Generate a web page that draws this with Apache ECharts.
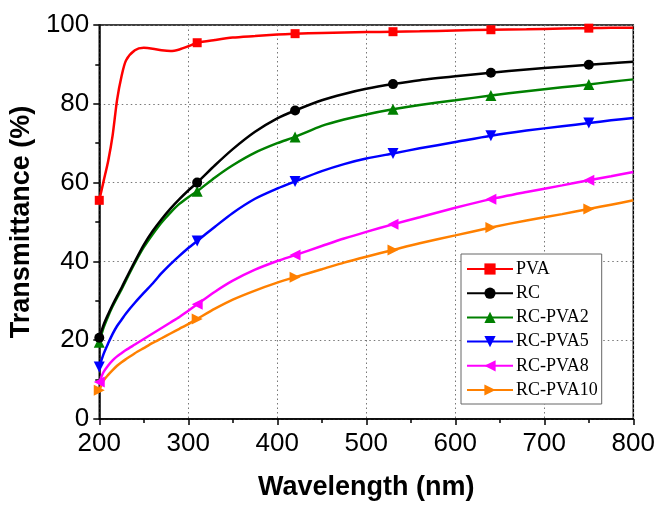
<!DOCTYPE html>
<html>
<head>
<meta charset="utf-8">
<script src="https://cdn.jsdelivr.net/npm/echarts@6/dist/echarts.min.js"></script>
<style>
  html, body { margin: 0; padding: 0; background: #fff; }
  #chart { width: 658px; height: 506px; }
</style>
</head>
<body>
<div id="chart"></div>
<script>
const wavelength = [200, 205, 210, 215, 220, 225, 230, 240, 250, 260, 270, 280, 290, 300, 310, 330, 350, 375, 400, 420, 450, 475, 500, 530, 560, 600, 640, 680, 720, 750, 775, 800]
// points that carry a marker
const markerAt = [200, 310, 420, 530, 640, 750]

const pva      = [55.5, 60.5, 65.5, 72, 81, 87, 91, 93.6, 94.2, 94, 93.6, 93.4, 93.8, 94.6, 95.5, 96.2, 96.8, 97.2, 97.6, 97.8, 98, 98.1, 98.2, 98.3, 98.4, 98.6, 98.8, 98.9, 99.1, 99.2, 99.3, 99.3]
const rc       = [20.6, 24, 26.6, 29, 31.2, 33.3, 35.6, 40, 44.2, 47.7, 50.7, 53.4, 55.8, 58, 60, 64.4, 68.5, 72.9, 76.3, 78.3, 80.9, 82.5, 83.8, 85, 86, 87, 87.9, 88.7, 89.4, 89.9, 90.3, 90.7]
const rcPva2   = [19.5, 23.3, 26.1, 28.6, 30.8, 32.9, 35.2, 39.6, 43.6, 46.9, 49.9, 52.4, 54.6, 56.3, 57.8, 61.3, 64.4, 67.6, 70, 71.6, 74.4, 76, 77.3, 78.6, 79.7, 80.9, 82.1, 83.2, 84.2, 84.9, 85.6, 86.2]
const rcPva5   = [13.2, 16.6, 19.2, 21.6, 23.6, 25.2, 26.8, 29.5, 32, 34.4, 37, 39.3, 41.4, 43.4, 45.2, 48.8, 52.3, 55.9, 58.5, 60.3, 62.9, 64.7, 66.1, 67.4, 68.7, 70.3, 71.9, 73.2, 74.3, 75.1, 75.8, 76.4]
const rcPva8   = [9.4, 12, 13.6, 14.9, 15.9, 16.7, 17.5, 18.9, 20.3, 21.7, 23.1, 24.5, 25.9, 27.5, 29.1, 32.3, 35.1, 37.9, 40.1, 41.6, 43.9, 45.8, 47.5, 49.4, 51.2, 53.6, 55.8, 57.6, 59.3, 60.6, 61.6, 62.7]
const rcPva10  = [7.3, 9.8, 11.2, 12.4, 13.5, 14.4, 15.2, 16.7, 18, 19.3, 20.5, 21.7, 22.9, 24.1, 25.4, 28, 30.3, 32.6, 34.6, 36, 38, 39.7, 41.2, 42.9, 44.6, 46.6, 48.6, 50.4, 52, 53.3, 54.4, 55.5]

const names   = ['PVA', 'RC', 'RC-PVA2', 'RC-PVA5', 'RC-PVA8', 'RC-PVA10']
const values  = [pva, rc, rcPva2, rcPva5, rcPva8, rcPva10]
const colors  = ['#ff0000', '#000000', '#008000', '#0000ff', '#ff00ff', '#ff8000']
const symbols = ['rect', 'circle', 'triangle', 'triangle', 'triangle', 'triangle']
const rotates = [0, 0, 0, 180, 90, -90]
const sizes   = [9, 10, 11, 11, 11, 11]

const chart = echarts.init(document.getElementById('chart'), null, { renderer: 'canvas' })

function makeSeries() {
  return names.map((name, i) => ({
    name,
    type: 'line',
    data: wavelength.map((w, k) => [w, values[i][k]]),
    smooth: 0.25,
    showAllSymbol: true,
    symbol: symbols[i],
    symbolRotate: rotates[i],
    symbolSize: (v) => markerAt.includes(v[0]) ? sizes[i] : 0,
    color: colors[i],
    lineStyle: { width: 2.5, color: colors[i] },
    itemStyle: { color: colors[i] },
    emphasis: { disabled: true },
    z: 10 - i
  }))
}

const axisText = { color: '#000', fontFamily: 'Liberation Sans, Arial', fontSize: 26 }
const nameText = { color: '#000', fontFamily: 'Liberation Sans, Arial', fontSize: 27, fontWeight: 'bold' }
// sparse grey dots like the original plot
const gridDots = { color: '#777', type: [1.5, 3], width: 1 }

chart.setOption({
  backgroundColor: '#fff',
  animation: false,
  grid: {
    left: 98, right: 23, top: 25, bottom: 84,
    show: true, borderColor: '#000', borderWidth: 1.5, backgroundColor: 'transparent'
  },
  legend: {
    data: names,
    orient: 'vertical',
    left: 461, top: 254,
    backgroundColor: '#fff',
    borderColor: '#666', borderWidth: 1,
    padding: [6, 4, 5, 5],
    itemWidth: 46, itemHeight: 14, itemGap: 6.2,
    textStyle: { color: '#000', fontFamily: 'Liberation Serif, Times New Roman', fontSize: 18, padding: [0, 0, 0, -2] }
  },
  xAxis: {
    type: 'value',
    min: 200, max: 800, interval: 100,
    name: 'Wavelength (nm)',
    nameLocation: 'middle', nameGap: 55,
    nameTextStyle: nameText,
    axisLine: { lineStyle: { color: '#000', width: 1.5 } },
    axisTick: { inside: false, length: 6, lineStyle: { color: '#000', width: 1.5 } },
    minorTick: { show: true, splitNumber: 2, length: 4, lineStyle: { color: '#000', width: 1.5 } },
    axisLabel: { ...axisText, margin: 12 },
    splitLine: { show: true, lineStyle: gridDots }
  },
  yAxis: {
    type: 'value',
    min: 0, max: 100, interval: 20,
    name: 'Transmittance (%)',
    nameLocation: 'middle', nameGap: 53,
    nameTextStyle: nameText,
    axisLine: { show: true, lineStyle: { color: '#000', width: 1.5 } },
    axisTick: { show: true, inside: false, length: 6, lineStyle: { color: '#000', width: 1.5 } },
    minorTick: { show: true, splitNumber: 2, length: 4, lineStyle: { color: '#000', width: 1.5 } },
    axisLabel: { ...axisText, margin: 10 },
    splitLine: { show: true, lineStyle: gridDots }
  },
  series: makeSeries()
})
</script>
</body>
</html>
